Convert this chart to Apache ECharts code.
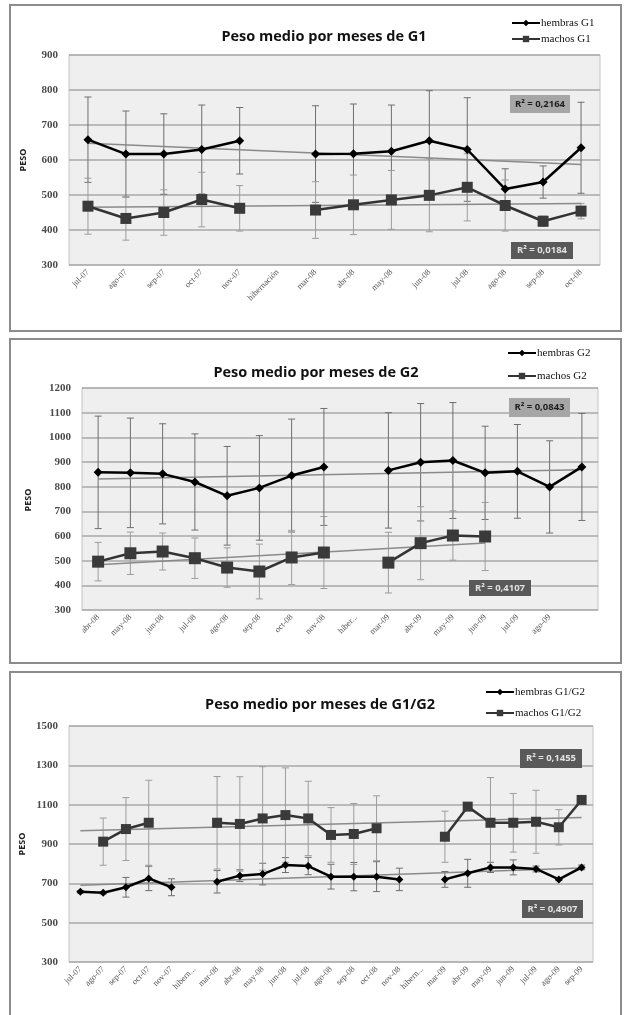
<!DOCTYPE html>
<html>
<head>
<meta charset="utf-8">
<script src="https://cdn.jsdelivr.net/npm/echarts@6/dist/echarts.min.js"></script>
<style>
  html, body { margin: 0; padding: 0; background: #ffffff; }
  #chart { width: 624px; height: 1015px; }
</style>
</head>
<body>
<div id="chart"></div>
<script>
// ---- G1: July 2007 - October 2008 ----
const monthsG1 = ['jul-07','ago-07','sep-07','oct-07','nov-07','hibernación','mar-08','abr-08','may-08','jun-08','jul-08','ago-08','sep-08','oct-08'];
const hembrasG1 = [658, 617, 617, 630, 655, null, 617, 618, 625, 655, 630, 517, 537, 635];
const hembrasG1Err = [122, 123, 115, 127, 95, null, 138, 142, 132, 143, 148, 58, 46, 130];
const machosG1 = [468, 433, 450, 487, 462, null, 457, 472, 486, 499, 522, 470, 425, 454];
const machosG1Err = [80, 62, 65, 78, 65, null, 81, 85, 84, 104, 96, 73, 15, 22];
const trendHembrasG1 = [648, 587];
const trendMachosG1 = [465, 476];
const r2G1 = ['R² = 0,2164', 'R² = 0,0184'];

// ---- G2: April 2008 - September 2009 ----
const monthsG2 = ['abr-08','may-08','jun-08','jul-08','ago-08','sep-08','oct-08','nov-08','hiber...','mar-09','abr-09','may-09','jun-09','jul-09','ago-09',''];
const hembrasG2 = [858, 856, 852, 819, 763, 795, 845, 880, null, 866, 899, 906, 856, 862, 799, 880];
const hembrasG2Err = [228, 222, 203, 195, 200, 212, 229, 237, null, 234, 238, 235, 189, 190, 187, 217];
const machosG2 = [496, 530, 537, 510, 472, 456, 513, 533, null, 492, 571, 602, 598, null, null, null];
const machosG2Err = [78, 86, 75, 82, 80, 111, 110, 146, null, 123, 148, 100, 138, null, null, null];
const trendHembrasG2 = [831, 869];
const trendMachosG2 = [483, 572];
const r2G2 = ['R² = 0,0843', 'R² = 0,4107'];

// ---- G1/G2 combined: July 2007 - September 2009 ----
const monthsG3 = ['jul-07','ago-07','sep-07','oct-07','nov-07','hibern...','mar-08','abr-08','may-08','jun-08','jul-08','ago-08','sep-08','oct-08','nov-08','hibern...','mar-09','abr-09','may-09','jun-09','jul-09','ago-09','sep-09'];
const hembrasG3 = [657, 652, 680, 725, 680, null, 708, 739, 747, 793, 788, 734, 734, 734, 720, null, 720, 751, 781, 781, 773, 720, 781];
const hembrasG3Err = [6, 6, 50, 62, 43, null, 57, 30, 55, 38, 44, 63, 72, 76, 57, null, 40, 71, 26, 38, 15, 6, 12];
const machosG3 = [null, 912, 976, 1008, null, null, 1008, 1002, 1030, 1047, 1030, 946, 951, 980, null, null, 937, 1090, 1008, 1008, 1013, 985, 1124];
const machosG3Err = [null, 120, 160, 216, null, null, 235, 240, 263, 240, 189, 139, 155, 165, null, null, 130, 20, 230, 149, 160, 90, 15];
const trendHembrasG3 = [690, 778];
const trendMachosG3 = [967, 1035];
const r2G3 = ['R² = 0,1455', 'R² = 0,4907'];

const SERIF = '"Liberation Serif", "DejaVu Serif", serif';
const SANS = '"Open Sans", "Noto Sans", sans-serif';

const panels = [
  { grid: { left: 69, top: 55, width: 531, height: 210 }, cats: monthsG1,
    hem: hembrasG1, hemErr: hembrasG1Err, mac: machosG1, macErr: machosG1Err,
    tH: trendHembrasG1, tHRange: [0, 13], tM: trendMachosG1, tMRange: [0, 13],
    min: 300, max: 900, step: 100, names: ['hembras G1', 'machos G1'],
    legend: { left: 511, top: 17, itemGap: 4 }, hemSize: 9, macSize: 11,
    title: { text: 'Peso medio por meses de G1', x: 324, y: 37 },
    border: { y: 5, h: 326 }, peso: { x: 23, y: 160 },
    boxes: [
      { text: r2G1[0], x: 510, y: 95, w: 60, h: 18, fill: '#a6a6a6', color: '#1e1e1e' },
      { text: r2G1[1], x: 511, y: 242, w: 62, h: 17, fill: '#595959', color: '#e2e2e2' }
    ] },
  { grid: { left: 82, top: 388, width: 516, height: 222 }, cats: monthsG2,
    hem: hembrasG2, hemErr: hembrasG2Err, mac: machosG2, macErr: machosG2Err,
    tH: trendHembrasG2, tHRange: [0, 15], tM: trendMachosG2, tMRange: [0, 12],
    min: 300, max: 1200, step: 100, names: ['hembras G2', 'machos G2'],
    legend: { left: 507, top: 347, itemGap: 11 }, hemSize: 9, macSize: 12,
    title: { text: 'Peso medio por meses de G2', x: 316, y: 373 },
    border: { y: 339, h: 324 }, peso: { x: 28, y: 500 },
    boxes: [
      { text: r2G2[0], x: 509, y: 398, w: 61, h: 19, fill: '#a6a6a6', color: '#1e1e1e' },
      { text: r2G2[1], x: 469, y: 580, w: 62, h: 16, fill: '#595959', color: '#e2e2e2' }
    ] },
  { grid: { left: 69, top: 726, width: 524, height: 236 }, cats: monthsG3,
    hem: hembrasG3, hemErr: hembrasG3Err, mac: machosG3, macErr: machosG3Err,
    tH: trendHembrasG3, tHRange: [0, 22], tM: trendMachosG3, tMRange: [0, 22],
    min: 300, max: 1500, step: 200, names: ['hembras G1/G2', 'machos G1/G2'],
    legend: { left: 485, top: 686, itemGap: 9 }, hemSize: 8, macSize: 10,
    title: { text: 'Peso medio por meses de G1/G2', x: 320, y: 705 },
    border: { y: 672, h: 360 }, peso: { x: 22, y: 844 },
    boxes: [
      { text: r2G3[0], x: 520, y: 749, w: 62, h: 19, fill: '#595959', color: '#e2e2e2' },
      { text: r2G3[1], x: 522, y: 900, w: 61, h: 18, fill: '#595959', color: '#e2e2e2' }
    ] }
];

// Vertical error bars with small caps, drawn through the axis scales
function errorBars(idx, values, errs, color, capHalf) {
  const data = [];
  values.forEach((v, i) => {
    if (v != null && errs[i] != null) data.push([i, v - errs[i], v + errs[i]]);
  });
  return {
    type: 'custom', xAxisIndex: idx, yAxisIndex: idx, z: 2, silent: true,
    data: data, encode: { x: 0, y: [1, 2] },
    renderItem: function (params, api) {
      const x = api.value(0);
      const lo = api.coord([x, api.value(1)]);
      const hi = api.coord([x, api.value(2)]);
      const st = { stroke: color, lineWidth: 1 };
      return {
        type: 'group', children: [
          { type: 'line', shape: { x1: hi[0], y1: hi[1], x2: lo[0], y2: lo[1] }, style: st },
          { type: 'line', shape: { x1: hi[0] - capHalf, y1: hi[1], x2: hi[0] + capHalf, y2: hi[1] }, style: st },
          { type: 'line', shape: { x1: lo[0] - capHalf, y1: lo[1], x2: lo[0] + capHalf, y2: lo[1] }, style: st }
        ]
      };
    }
  };
}

const grids = [], xAxes = [], yAxes = [], series = [], legends = [], graphics = [];

panels.forEach((p, idx) => {
  grids.push(Object.assign({ show: true, backgroundColor: '#efefef', borderColor: '#c4c4c4', borderWidth: 1 }, p.grid));
  xAxes.push({
    type: 'category', gridIndex: idx, data: p.cats, boundaryGap: true,
    axisLine: { show: false }, axisTick: { show: false },
    axisLabel: { interval: 0, rotate: 45, fontSize: 8.5, fontFamily: SERIF, color: '#555', margin: 6 }
  });
  yAxes.push({
    type: 'value', gridIndex: idx, min: p.min, max: p.max, interval: p.step,
    axisLine: { show: false }, axisTick: { show: false },
    splitLine: { lineStyle: { color: '#a9a9a9', width: 1.5 } },
    axisLabel: { fontSize: 11, fontWeight: 'bold', fontFamily: SERIF, color: '#4a4a4a', margin: 11,
      formatter: v => String(v) }
  });

  series.push(errorBars(idx, p.hem, p.hemErr, '#6e6e6e', 3.5));
  series.push(errorBars(idx, p.mac, p.macErr, '#9c9c9c', 3.5));

  series.push({
    type: 'line', xAxisIndex: idx, yAxisIndex: idx, silent: true, z: 3, symbol: 'none',
    data: [[p.tHRange[0], p.tH[0]], [p.tHRange[1], p.tH[1]]],
    lineStyle: { color: '#8a8a8a', width: 1.5 }
  });
  series.push({
    type: 'line', xAxisIndex: idx, yAxisIndex: idx, silent: true, z: 3, symbol: 'none',
    data: [[p.tMRange[0], p.tM[0]], [p.tMRange[1], p.tM[1]]],
    lineStyle: { color: '#8a8a8a', width: 1.5 }
  });

  series.push({
    type: 'line', name: p.names[0], xAxisIndex: idx, yAxisIndex: idx, z: 5,
    data: p.hem, symbol: 'diamond', symbolSize: p.hemSize, connectNulls: false,
    itemStyle: { color: '#000000' }, lineStyle: { color: '#000000', width: 2.5 }
  });
  series.push({
    type: 'line', name: p.names[1], xAxisIndex: idx, yAxisIndex: idx, z: 5,
    data: p.mac, symbol: 'rect', symbolSize: p.macSize, connectNulls: false,
    itemStyle: { color: '#3a3a3a' }, lineStyle: { color: '#333333', width: 2.5 }
  });

  legends.push({
    data: p.names, orient: 'vertical', left: p.legend.left, top: p.legend.top, padding: 0,
    itemGap: p.legend.itemGap, itemWidth: 28, itemHeight: 8, selectedMode: false,
    textStyle: { fontFamily: SERIF, fontSize: 11, lineHeight: 12, color: '#111', padding: [0, 0, 0, -4] }
  });

  graphics.push({
    type: 'rect', silent: true, z: 0,
    shape: { x: 10, y: p.border.y, width: 611, height: p.border.h },
    style: { fill: 'none', stroke: '#8c8c8c', lineWidth: 2 }
  });
  graphics.push({
    type: 'text', silent: true, x: p.title.x, y: p.title.y,
    style: { text: p.title.text, font: 'bold 14.5px ' + SANS, fill: '#111', textAlign: 'center', textVerticalAlign: 'middle' }
  });
  graphics.push({
    type: 'text', silent: true, x: p.peso.x, y: p.peso.y, rotation: Math.PI / 2,
    style: { text: 'PESO', font: 'bold 9px ' + SANS, fill: '#222', textAlign: 'center', textVerticalAlign: 'middle' }
  });
  p.boxes.forEach(b => {
    graphics.push({
      type: 'rect', silent: true, z: 100,
      shape: { x: b.x, y: b.y, width: b.w, height: b.h }, style: { fill: b.fill }
    });
    graphics.push({
      type: 'text', silent: true, z: 101, x: b.x + b.w / 2, y: b.y + b.h / 2,
      style: { text: b.text, font: 'bold 9.5px ' + SANS, fill: b.color, textAlign: 'center', textVerticalAlign: 'middle' }
    });
  });
});

const chart = echarts.init(document.getElementById('chart'), null, { renderer: 'canvas' });
chart.setOption({
  animation: false,
  backgroundColor: '#ffffff',
  grid: grids, xAxis: xAxes, yAxis: yAxes,
  legend: legends, series: series, graphic: graphics
});
</script>
</body>
</html>
